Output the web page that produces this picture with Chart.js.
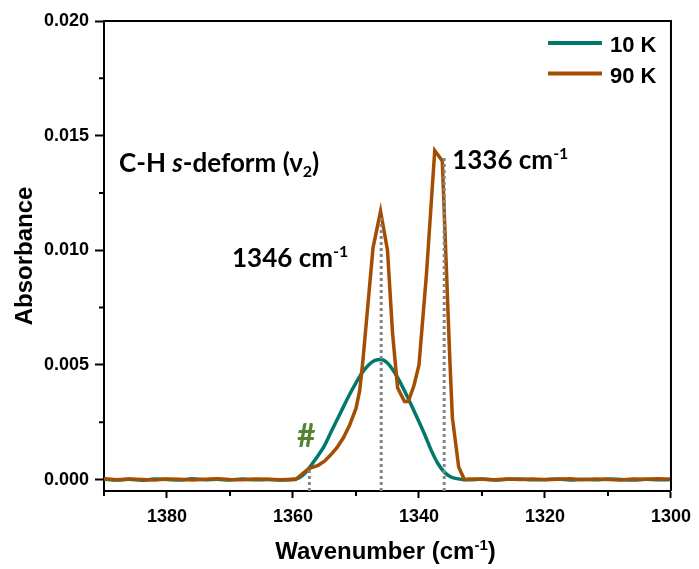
<!DOCTYPE html>
<html>
<head>
<meta charset="utf-8">
<script src="https://cdn.jsdelivr.net/npm/chart.js@4.4.1/dist/chart.umd.min.js"></script>
<style>
  html, body { margin: 0; padding: 0; background: #fff; }
  canvas { display: block; }
</style>
</head>
<body>
<canvas id="spectrum" width="699" height="569"></canvas>
<script>
// 10 K spectrum (wavenumber, absorbance)
const wn10 = [1390, 1388, 1386, 1384, 1382, 1380, 1378, 1376, 1374, 1372, 1370, 1368, 1366, 1364, 1362,
  1360, 1359, 1358, 1357, 1356, 1355, 1354, 1353, 1352, 1351, 1350, 1349, 1348, 1347, 1346,
  1345, 1344, 1343, 1342, 1341, 1340, 1339, 1338, 1337, 1336, 1335, 1334, 1333,
  1332, 1330, 1328, 1326, 1324, 1322, 1320, 1318, 1316, 1314, 1312, 1310, 1308, 1306, 1304, 1302, 1300];
const abs10 = [0.00002, -0.00002, 0.00001, -0.00003, 0.00002, 0.00000, -0.00002, 0.00003, -0.00001, 0.00001, -0.00002, 0.00002, -0.00001, 0.00000, -0.00002,
  0.00000, 0.00008, 0.00030, 0.00067, 0.00105, 0.00148, 0.00205, 0.00261, 0.00317, 0.00372, 0.00422, 0.00467, 0.00500, 0.00520, 0.00524,
  0.00508, 0.00472, 0.00425, 0.00370, 0.00312, 0.00252, 0.00190, 0.00124, 0.00070, 0.00033, 0.00012, 0.00004, 0.00000,
  -0.00001, 0.00002, -0.00002, 0.00001, 0.00002, -0.00001, 0.00000, 0.00002, -0.00002, 0.00001, -0.00001, 0.00002, 0.00000, -0.00002, 0.00001, -0.00001, 0.00000];

// 90 K spectrum (wavenumber, absorbance)
const wn90 = [1390, 1388, 1386, 1384, 1382, 1380, 1378, 1376, 1374, 1372, 1370, 1368, 1366, 1364, 1362, 1360,
  1359.6, 1357.5, 1356.0, 1355.0, 1354.0, 1353.0, 1352.0, 1351.0, 1350.0, 1349.4, 1348.9, 1347.3, 1346.1,
  1345.0, 1344.2, 1343.4, 1342.3, 1341.7, 1340.8, 1340.0, 1338.8, 1337.5, 1336.3, 1335.1, 1334.7, 1333.7, 1332.8,
  1332, 1330, 1328, 1326, 1324, 1322, 1320, 1318, 1316, 1314, 1312, 1310, 1308, 1306, 1304, 1302, 1300];
const abs90 = [0.00003, -0.00001, 0.00002, 0.00000, -0.00002, 0.00002, 0.00001, -0.00002, 0.00001, 0.00003, 0.00000, -0.00001, 0.00002, 0.00001, -0.00001, 0.00001,
  0.00000, 0.00048, 0.00062, 0.00080, 0.00108, 0.00140, 0.00182, 0.00238, 0.00310, 0.00390, 0.00520, 0.01010, 0.01170,
  0.01000, 0.00640, 0.00400, 0.00340, 0.00340, 0.00410, 0.00500, 0.00900, 0.01435, 0.01390, 0.00520, 0.00270, 0.00055, 0.00000,
  0.00002, 0.00001, -0.00001, 0.00002, 0.00000, 0.00002, -0.00001, 0.00001, 0.00003, -0.00001, 0.00002, 0.00000, -0.00002, 0.00002, 0.00001, 0.00003, 0.00001];

const seriesLabels = ['10 K', '90 K'];
const seriesColors = ['#00786c', '#a34e00'];

// dotted guides: shoulder (#) and the two 90 K peaks
const markerWn = [1357.4, 1346, 1336];
const markerTop = [0.0005, 0.0115, 0.0141];

const xTicks = [1380, 1360, 1340, 1320, 1300];
const xMinor = [1390, 1370, 1350, 1330, 1310];
const yTicks = [0, 0.005, 0.010, 0.015, 0.020];
const yMinor = [0.0025, 0.0075, 0.0125, 0.0175];

const AXIS_FONT = "'Liberation Sans', Arial, sans-serif";
const NOTE_FONT = "Lato, 'Open Sans', sans-serif";

function toPoints(xs, ys) {
  return xs.map((x, i) => ({ x: x, y: ys[i] }));
}

function partFont(p, size, family) {
  const s = (p.sup || p.sub) ? Math.round(size * 0.62) : size;
  return (p.it ? 'italic ' : '') + 'bold ' + s + 'px ' + family;
}

// text with super/subscript pieces, y is the baseline
function drawRich(ctx, parts, x, y, size, family, align) {
  let total = 0;
  parts.forEach(p => {
    ctx.font = partFont(p, size, family);
    p.w = ctx.measureText(p.t).width;
    total += p.w;
  });
  let cx = align === 'center' ? x - total / 2 : align === 'right' ? x - total : x;
  ctx.textAlign = 'left';
  ctx.textBaseline = 'alphabetic';
  parts.forEach(p => {
    ctx.font = partFont(p, size, family);
    const dy = p.sup ? -size * 0.38 : p.sub ? size * 0.2 : 0;
    ctx.fillText(p.t, cx, y + dy);
    cx += p.w;
  });
}

const decor = {
  id: 'decor',
  afterDraw(chart) {
    const ctx = chart.ctx;
    const area = chart.chartArea;
    const xs = chart.scales.x;
    const ys = chart.scales.y;
    ctx.save();

    // frame top and right
    ctx.strokeStyle = '#000';
    ctx.lineWidth = 2;
    ctx.beginPath();
    ctx.moveTo(area.left, area.top);
    ctx.lineTo(area.right, area.top);
    ctx.lineTo(area.right, area.bottom);
    ctx.stroke();

    // minor ticks
    ctx.beginPath();
    xMinor.forEach(v => {
      const px = xs.getPixelForValue(v);
      ctx.moveTo(px, area.bottom);
      ctx.lineTo(px, area.bottom + 5);
    });
    yMinor.forEach(v => {
      const py = ys.getPixelForValue(v);
      ctx.moveTo(area.left, py);
      ctx.lineTo(area.left - 5, py);
    });
    ctx.stroke();

    // axis titles
    ctx.fillStyle = '#000';
    drawRich(ctx, [{ t: 'Wavenumber (cm' }, { t: '-1', sup: true }, { t: ')' }],
      (area.left + area.right) / 2 - 2, 559, 24, AXIS_FONT, 'center');
    ctx.save();
    ctx.translate(31.5, (area.top + area.bottom) / 2);
    ctx.rotate(-Math.PI / 2);
    drawRich(ctx, [{ t: 'Absorbance' }], 0, 0, 24, AXIS_FONT, 'center');
    ctx.restore();

    // legend
    seriesLabels.forEach((lab, i) => {
      const ly = area.top + 22 + i * 30.6;
      ctx.strokeStyle = seriesColors[i];
      ctx.lineWidth = 4;
      ctx.beginPath();
      ctx.moveTo(area.right - 123, ly);
      ctx.lineTo(area.right - 69, ly);
      ctx.stroke();
      ctx.fillStyle = '#000';
      ctx.font = 'bold 22px ' + AXIS_FONT;
      ctx.textAlign = 'left';
      ctx.textBaseline = 'alphabetic';
      ctx.fillText(lab, area.right - 61, ly + 9);
    });

    // band notes
    ctx.fillStyle = '#000';
    drawRich(ctx, [{ t: 'C-H ' }, { t: 's', it: true }, { t: '-deform (ν' }, { t: '2', sub: true }, { t: ')' }],
      area.left + 15, 172, 26, NOTE_FONT, 'left');
    drawRich(ctx, [{ t: markerWn[1] + ' cm' }, { t: '-1', sup: true }],
      xs.getPixelForValue(markerWn[1]) - 33, 267, 26, NOTE_FONT, 'right');
    drawRich(ctx, [{ t: markerWn[2] + ' cm' }, { t: '-1', sup: true }],
      xs.getPixelForValue(markerWn[2]) + 8, 169, 26, NOTE_FONT, 'left');
    ctx.fillStyle = '#548235';
    drawRich(ctx, [{ t: '#' }], xs.getPixelForValue(markerWn[0]) - 3, 447, 32, NOTE_FONT, 'center');

    ctx.restore();
  }
};

const guideSets = markerWn.map((w, i) => ({
  data: [{ x: w, y: -0.0005 }, { x: w, y: markerTop[i] }],
  borderColor: '#858585',
  borderWidth: 3,
  borderDash: [3, 3],
  pointRadius: 0,
  order: 0
}));

new Chart(document.getElementById('spectrum'), {
  type: 'line',
  data: {
    datasets: [
      ...guideSets,
      {
        label: seriesLabels[1],
        data: toPoints(wn90, abs90),
        borderColor: seriesColors[1],
        borderWidth: 3.5,
        pointRadius: 0,
        tension: 0,
        order: 1
      },
      {
        label: seriesLabels[0],
        data: toPoints(wn10, abs10),
        borderColor: seriesColors[0],
        borderWidth: 3.5,
        pointRadius: 0,
        cubicInterpolationMode: 'monotone',
        order: 2
      }
    ]
  },
  options: {
    responsive: false,
    animation: false,
    events: [],
    layout: { padding: { top: 21, right: 23, left: 0, bottom: 0 } },
    plugins: {
      legend: { display: false },
      tooltip: { enabled: false }
    },
    scales: {
      x: {
        type: 'linear',
        reverse: true,
        min: 1300,
        max: 1390,
        afterBuildTicks: s => { s.ticks = xTicks.map(v => ({ value: v })); },
        afterFit: s => { s.height = 78; },
        border: { color: '#000', width: 2 },
        grid: { drawOnChartArea: false, tickLength: 7, tickWidth: 2, tickColor: '#000' },
        ticks: {
          color: '#000',
          font: { family: AXIS_FONT, weight: 'bold', size: 18 },
          padding: 8,
          maxRotation: 0,
          autoSkip: false,
          callback: v => String(v)
        }
      },
      y: {
        type: 'linear',
        min: -0.0005,
        max: 0.020,
        afterBuildTicks: s => { s.ticks = yTicks.map(v => ({ value: v })); },
        afterFit: s => { s.width = 104; },
        border: { color: '#000', width: 2 },
        grid: { drawOnChartArea: false, tickLength: 9, tickWidth: 2, tickColor: '#000' },
        ticks: {
          color: '#000',
          font: { family: AXIS_FONT, weight: 'bold', size: 18 },
          padding: 6,
          callback: v => v.toFixed(3)
        }
      }
    }
  },
  plugins: [decor]
});
</script>
</body>
</html>
